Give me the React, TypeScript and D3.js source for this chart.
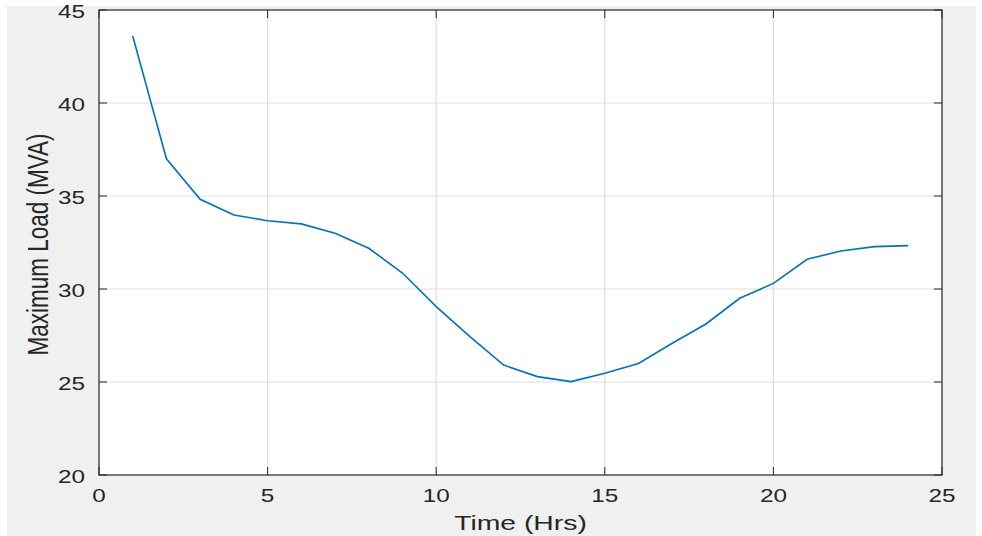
import React, { useRef, useEffect } from "react";
import * as d3 from "d3";

// hourly maximum load
const hours = [1, 2, 3, 4, 5, 6, 7, 8, 9, 10, 11, 12, 13, 14, 15, 16, 17, 18, 19, 20, 21, 22, 23, 24];
const loadMVA = [
  43.6, 37.0, 34.82, 33.98, 33.67, 33.5, 33.0, 32.19, 30.86, 29.05, 27.44, 25.91,
  25.29, 25.02, 25.47, 26.0, 27.08, 28.12, 29.5, 30.3, 31.6, 32.04, 32.28, 32.33,
];
const xTicks = [0, 5, 10, 15, 20, 25];
const yTicks = [20, 25, 30, 35, 40, 45];

const App = () => {
  const svgRef = useRef<SVGSVGElement>(null);

  useEffect(() => {
    const W = 982;
    const H = 536;
    const margin = { top: 10, left: 99 };
    const width = 942 - margin.left;
    const height = 475 - margin.top;
    const stretch = 1.35; // the text in the figure is widened horizontally

    const root = d3.select(svgRef.current).attr("width", W).attr("height", H);
    root.selectAll("*").remove();

    // figure background
    root.append("rect").attr("x", 7).attr("y", 6).attr("width", 969).attr("height", 530).attr("fill", "#f0f0f0");

    const svg = root.append("g").attr("transform", `translate(${margin.left},${margin.top})`);

    const x = d3.scaleLinear().domain([0, 25]).range([0, width]);
    const y = d3.scaleLinear().domain([20, 45]).range([height, 0]);

    svg.append("rect").attr("width", width).attr("height", height).attr("fill", "#ffffff");

    // grid
    svg
      .selectAll(".gx")
      .data(xTicks.slice(1, -1))
      .enter()
      .append("line")
      .attr("x1", (d) => x(d))
      .attr("x2", (d) => x(d))
      .attr("y1", 0)
      .attr("y2", height)
      .attr("stroke", "#dfdfdf")
      .attr("stroke-width", 1.2);
    svg
      .selectAll(".gy")
      .data(yTicks.slice(1, -1))
      .enter()
      .append("line")
      .attr("x1", 0)
      .attr("x2", width)
      .attr("y1", (d) => y(d))
      .attr("y2", (d) => y(d))
      .attr("stroke", "#dfdfdf")
      .attr("stroke-width", 1.2);

    // data line
    const line = d3
      .line<number>()
      .x((d, i) => x(hours[i]))
      .y((d) => y(d));
    svg
      .append("path")
      .datum(loadMVA)
      .attr("d", line)
      .attr("fill", "none")
      .attr("stroke", "#0072bd")
      .attr("stroke-width", 1.6);

    // axes box
    svg
      .append("rect")
      .attr("width", width)
      .attr("height", height)
      .attr("fill", "none")
      .attr("stroke", "#262626")
      .attr("stroke-width", 1.2);

    const tickLen = 8;
    const axisColor = "#262626";
    // inward ticks on all four sides
    xTicks.forEach((t) => {
      svg.append("line").attr("x1", x(t)).attr("x2", x(t)).attr("y1", height).attr("y2", height - tickLen).attr("stroke", axisColor);
      svg.append("line").attr("x1", x(t)).attr("x2", x(t)).attr("y1", 0).attr("y2", tickLen).attr("stroke", axisColor);
    });
    yTicks.forEach((t) => {
      svg.append("line").attr("x1", 0).attr("x2", tickLen).attr("y1", y(t)).attr("y2", y(t)).attr("stroke", axisColor);
      svg.append("line").attr("x1", width).attr("x2", width - tickLen).attr("y1", y(t)).attr("y2", y(t)).attr("stroke", axisColor);
    });

    const font = "'Liberation Sans', Arial, sans-serif";
    svg
      .selectAll(".xl")
      .data(xTicks)
      .enter()
      .append("text")
      .attr("transform", (d) => `translate(${x(d)},${height + 27}) scale(${stretch},1)`)
      .attr("text-anchor", "middle")
      .attr("font-family", font)
      .attr("font-size", 18)
      .attr("fill", axisColor)
      .text((d) => d);
    svg
      .selectAll(".yl")
      .data(yTicks)
      .enter()
      .append("text")
      .attr("transform", (d) => `translate(${-14},${y(d) + 8}) scale(${stretch},1)`)
      .attr("text-anchor", "end")
      .attr("font-family", font)
      .attr("font-size", 18)
      .attr("fill", axisColor)
      .text((d) => d);

    svg
      .append("text")
      .attr("transform", `translate(${width / 2},${height + 55}) scale(${stretch},1)`)
      .attr("text-anchor", "middle")
      .attr("font-family", font)
      .attr("font-size", 21)
      .attr("fill", axisColor)
      .text("Time (Hrs)");
    svg
      .append("text")
      .attr("transform", `translate(${-51},${height / 2 + 2}) scale(${stretch},1) rotate(-90)`)
      .attr("text-anchor", "middle")
      .attr("font-family", font)
      .attr("font-size", 22.5)
      .attr("fill", axisColor)
      .text("Maximum Load (MVA)");
  }, []);

  return (
    <div style={{ position: "absolute", left: 0, top: 0, background: "#ffffff" }}>
      <svg ref={svgRef} style={{ display: "block" }}></svg>
    </div>
  );
};

export default App;
